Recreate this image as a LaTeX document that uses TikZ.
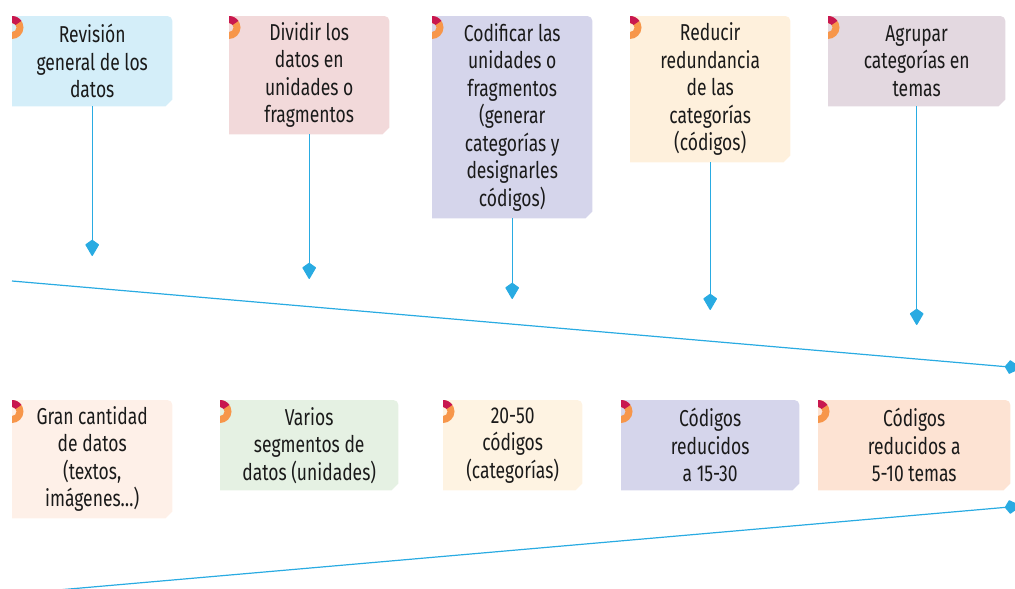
\documentclass[tikz,border=0pt]{standalone}
\usepackage{fontspec}
\setmainfont{Fira Sans}[FakeStretch=0.76]
\usetikzlibrary{arrows.meta,backgrounds,calc}
\definecolor{cblue}{HTML}{D4EEF9}
\definecolor{cpink}{HTML}{F2D9DA}
\definecolor{clav}{HTML}{D5D5EB}
\definecolor{ccream}{HTML}{FEF0DC}
\definecolor{cmauve}{HTML}{E3D8E0}
\definecolor{cpeach}{HTML}{FEF0E8}
\definecolor{cgreen}{HTML}{E5F1E3}
\definecolor{cyell}{HTML}{FEF3E2}
\definecolor{corange}{HTML}{FDE3D3}
\definecolor{ablue}{HTML}{29ABE2}
\definecolor{icoorange}{HTML}{F7964A}
\definecolor{icored}{HTML}{C8174F}
\definecolor{txt}{HTML}{1A1A1A}
\tikzset{
  card/.style={inner sep=0pt, align=center, anchor=north west, text=txt,
    font=\fontsize{23}{27.5}\selectfont},
  flow/.style={draw=ablue, line width=1.2pt,
    -{Kite[length=17pt,width=14pt,inset=5pt,round]}},
}
\newcommand\cardbg[2]{%
  \fill[#2] (#1.south west) -- (#1.north west) -- ([xshift=-5pt]#1.north east)
    arc[start angle=90,end angle=0,radius=5pt]
    -- ([yshift=7pt]#1.south east) -- ([xshift=-7pt]#1.south east) -- cycle;
  \begin{scope}
    \clip (#1.north west) rectangle ([xshift=15pt,yshift=-30pt]#1.north west);
    \fill[icoorange,even odd rule] ([yshift=-11.5pt]#1.north west) circle[radius=11.5pt]
      ([yshift=-11.5pt]#1.north west) circle[radius=4.5pt];
    \fill[icored] ([yshift=-11.5pt,shift={(35:11.5pt)}]#1.north west)
      arc[start angle=35,end angle=140,radius=11.5pt]
      -- ([yshift=-11.5pt,shift={(140:4.5pt)}]#1.north west)
      arc[start angle=140,end angle=35,radius=4.5pt] -- cycle;
  \end{scope}}
\begin{document}
\begin{tikzpicture}[x=1pt,y=-1pt]
\useasboundingbox (0,0) rectangle (1015,589);
% top row
\node[card, minimum width=160pt, minimum height=90pt] (s1) at (12,16) {Revisión\\general de los\\datos};
\node[card, minimum width=160pt, minimum height=118pt] (s2) at (229,16) {Dividir los\\datos en\\unidades o\\fragmentos};
\node[card, minimum width=160pt, minimum height=202pt] (s3) at (432,16) {Codificar las\\unidades o\\fragmentos\\(generar\\categorías y\\designarles\\códigos)};
\node[card, minimum width=160pt, minimum height=146pt] (s4) at (630,16) {Reducir\\redundancia\\de las\\categorías\\(códigos)};
\node[card, minimum width=177pt, minimum height=90pt] (s5) at (828,16) {Agrupar\\categorías en\\temas};
% bottom row
\node[card, minimum width=160pt, minimum height=118pt] (d1) at (12,400) {Gran cantidad\\de datos\\(textos,\\imágenes…)};
\node[card, minimum width=178pt, minimum height=90pt] (d2) at (220,400) {Varios\\segmentos de\\datos (unidades)};
\node[card, minimum width=139pt, minimum height=90pt] (d3) at (443,400) {20-50\\códigos\\(categorías)};
\node[card, minimum width=178pt, minimum height=90pt] (d4) at (621,400) {Códigos\\reducidos\\a 15-30};
\node[card, minimum width=192pt, minimum height=90pt] (d5) at (818,400) {Códigos\\reducidos a\\5-10 temas};
\begin{scope}[on background layer]
\cardbg{s1}{cblue}
\cardbg{s2}{cpink}
\cardbg{s3}{clav}
\cardbg{s4}{ccream}
\cardbg{s5}{cmauve}
\cardbg{d1}{cpeach}
\cardbg{d2}{cgreen}
\cardbg{d3}{cyell}
\cardbg{d4}{clav}
\cardbg{d5}{corange}
\end{scope}
% arrow tips
\coordinate (t1) at (91,256);
\coordinate (t2) at (309,279);
\coordinate (t3) at (513,299);
\coordinate (t4) at (709,310);
\coordinate (t5) at (916,325);
\draw[flow] (s1.south) -- (s1.south |- t1);
\draw[flow] (s2.south) -- (s2.south |- t2);
\draw[flow] (s3.south) -- (s3.south |- t3);
\draw[flow] (s4.south) -- (s4.south |- t4);
\draw[flow] (s5.south) -- (s5.south |- t5);
% long lines
\coordinate (l1s) at (12,281);
\coordinate (l1e) at (1021,368);
\coordinate (l2s) at (58,590);
\coordinate (l2e) at (1021,506);
\draw[flow] (l1s) -- (l1e);
\draw[flow] (l2s) -- (l2e);
\end{tikzpicture}
\end{document}
